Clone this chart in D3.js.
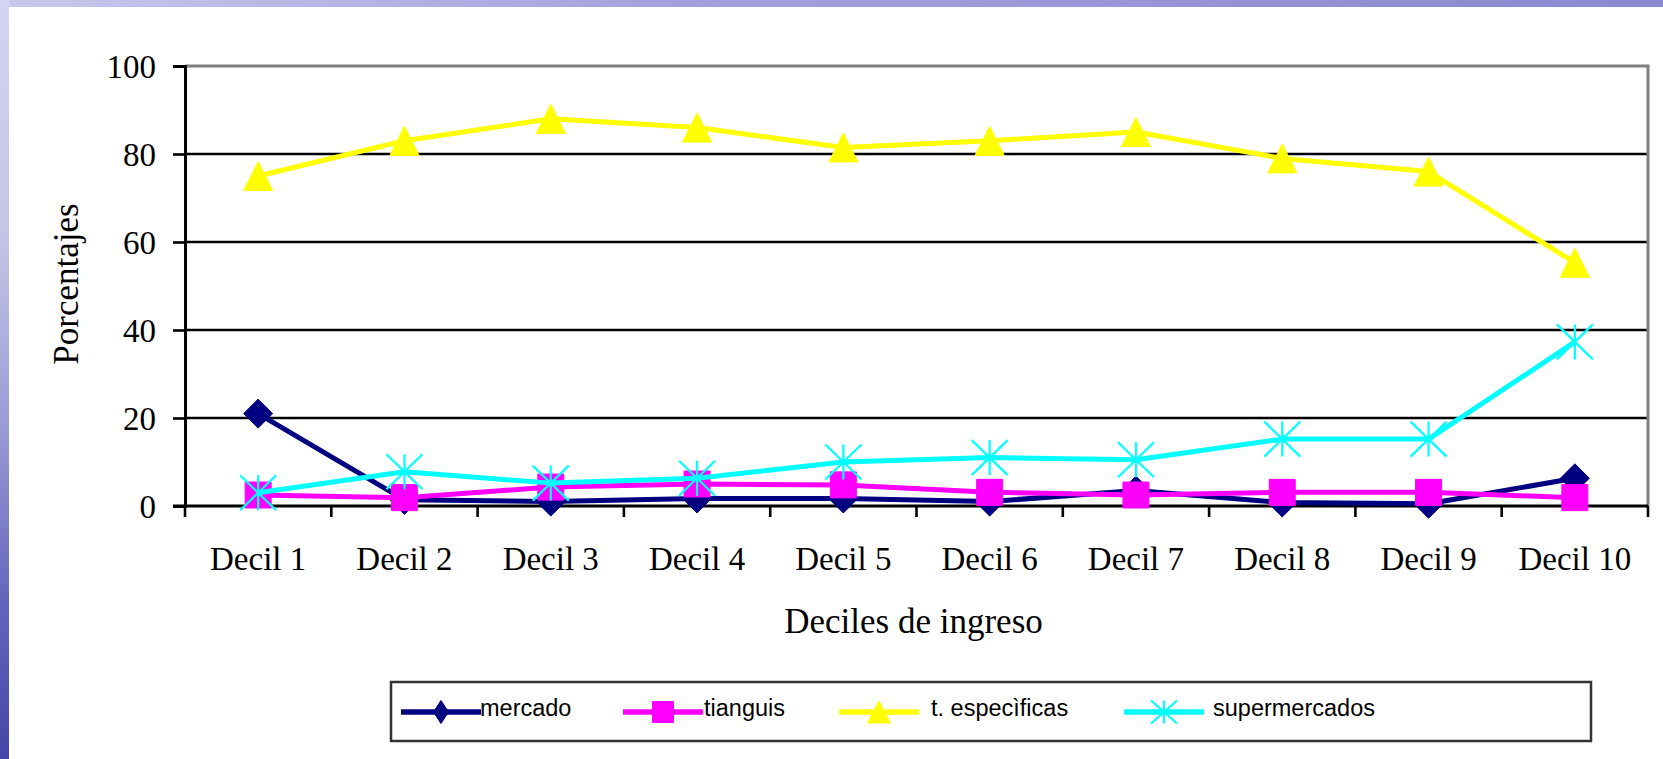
<!DOCTYPE html>
<html>
<head>
<meta charset="utf-8">
<script src="https://cdn.jsdelivr.net/npm/d3@7"></script>
<style>
  html, body { margin: 0; padding: 0; background: #ffffff; }
  svg { display: block; }
</style>
</head>
<body>
<svg id="chart" width="1663" height="759"></svg>
<script>
// Income deciles and the share (%) of households buying at each type of outlet
const categories = ["Decil 1", "Decil 2", "Decil 3", "Decil 4", "Decil 5",
                    "Decil 6", "Decil 7", "Decil 8", "Decil 9", "Decil 10"];
const mercado       = [21, 1.4, 1.0, 1.7, 1.7, 1.0, 3.5, 0.8, 0.5, 6.3];
const tianguis      = [2.5, 1.9, 4.3, 5.0, 4.8, 3.1, 2.5, 3.1, 3.1, 1.9];
const especificas   = [75, 83, 88, 86, 81.5, 83, 85, 79, 76, 55.3];
const supermercados = [3.0, 7.8, 5.2, 6.3, 10.0, 11.0, 10.5, 15.2, 15.2, 37.3];
const seriesNames   = ["mercado", "tianguis", "t. especìficas", "supermercados"];
const yTicks        = [0, 20, 40, 60, 80, 100];
const xTitle        = "Deciles de ingreso";
const yTitle        = "Porcentajes";

const seriesValues = [mercado, tianguis, especificas, supermercados];
const seriesColors = ["#000080", "#ff00ff", "#ffff00", "#00ffff"];
const seriesShapes = ["diamond", "square", "triangle", "star"];

const svg = d3.select("#chart");
const W = 1663, H = 759;

// ---- slide background: textured blue strip on the left, purple band on top
const defs = svg.append("defs");
const gLeft = defs.append("linearGradient").attr("id", "leftBand")
  .attr("x1", 0).attr("y1", 0).attr("x2", 0).attr("y2", 1);
gLeft.append("stop").attr("offset", "0%").attr("stop-color", "#d4d4f0");
gLeft.append("stop").attr("offset", "30%").attr("stop-color", "#c4c6e8");
gLeft.append("stop").attr("offset", "55%").attr("stop-color", "#9c9ed6");
gLeft.append("stop").attr("offset", "80%").attr("stop-color", "#6264bc");
gLeft.append("stop").attr("offset", "100%").attr("stop-color", "#4446a8");
const gTop = defs.append("linearGradient").attr("id", "topBand")
  .attr("x1", 0).attr("y1", 0).attr("x2", 1).attr("y2", 0);
gTop.append("stop").attr("offset", "0%").attr("stop-color", "#c8c8ec");
gTop.append("stop").attr("offset", "40%").attr("stop-color", "#a4a2dc");
gTop.append("stop").attr("offset", "100%").attr("stop-color", "#8a88d0");

svg.append("rect").attr("x", 0).attr("y", 0).attr("width", W).attr("height", H).attr("fill", "#ffffff");
svg.append("rect").attr("x", 0).attr("y", 0).attr("width", W).attr("height", 7).attr("fill", "url(#topBand)");
svg.append("rect").attr("x", 0).attr("y", 0).attr("width", 9).attr("height", H).attr("fill", "url(#leftBand)");

// ---- plot area
const plot = { left: 185, right: 1648, top: 66, bottom: 506 };

const x = d3.scaleBand().domain(categories).range([plot.left, plot.right]);
const y = d3.scaleLinear().domain([0, 100]).range([plot.bottom, plot.top]);

// horizontal gridlines
svg.append("g").selectAll("line")
  .data(yTicks.filter(v => v > 0 && v < 100))
  .join("line")
  .attr("x1", plot.left).attr("x2", plot.right)
  .attr("y1", d => y(d)).attr("y2", d => y(d))
  .attr("stroke", "#000").attr("stroke-width", 2.6);

// gray frame on the top and right of the plot area
svg.append("path")
  .attr("d", `M${plot.left},${y(100)}H${plot.right}V${plot.bottom}`)
  .attr("fill", "none").attr("stroke", "#808080").attr("stroke-width", 3);

// y axis
const yAxis = d3.axisLeft(y).tickValues(yTicks).tickSize(12).tickPadding(17).tickFormat(d3.format("d"));
const gy = svg.append("g").attr("transform", `translate(${plot.left},0)`).call(yAxis);
gy.select(".domain").attr("stroke", "#000").attr("stroke-width", 3);
gy.selectAll(".tick line").attr("stroke", "#000").attr("stroke-width", 2.6);
gy.selectAll(".tick text")
  .attr("font-family", "'Liberation Serif', 'Times New Roman', serif")
  .attr("font-size", 33).attr("fill", "#000").attr("dy", "0.36em");

// x axis: baseline, ticks between categories, labels centred on each band
const gx = svg.append("g");
gx.append("line")
  .attr("x1", plot.left - 12).attr("x2", plot.right)
  .attr("y1", y(0)).attr("y2", y(0))
  .attr("stroke", "#000").attr("stroke-width", 3);
const boundaries = categories.map(c => x(c)).concat([x.range()[1]]);
gx.selectAll("line.tick")
  .data(boundaries)
  .join("line").attr("class", "tick")
  .attr("x1", d => d).attr("x2", d => d)
  .attr("y1", y(0)).attr("y2", y(0) + 11)
  .attr("stroke", "#000").attr("stroke-width", 2.6);
gx.selectAll("text")
  .data(categories)
  .join("text")
  .attr("x", d => x(d) + x.bandwidth() / 2)
  .attr("y", 570)
  .attr("text-anchor", "middle")
  .attr("font-family", "'Liberation Serif', 'Times New Roman', serif")
  .attr("font-size", 33).attr("fill", "#000")
  .text(d => d);

// axis titles
svg.append("text")
  .attr("x", (plot.left + plot.right) / 2 - 3).attr("y", 633)
  .attr("text-anchor", "middle")
  .attr("font-family", "'Liberation Serif', 'Times New Roman', serif")
  .attr("font-size", 35).attr("fill", "#000")
  .text(xTitle);
svg.append("text")
  .attr("transform", `translate(78,${(plot.top + plot.bottom) / 2 - 2}) rotate(-90)`)
  .attr("text-anchor", "middle")
  .attr("font-family", "'Liberation Serif', 'Times New Roman', serif")
  .attr("font-size", 35).attr("fill", "#000")
  .text(yTitle);

// ---- marker shapes (w, h = full width / height)
function markerPath(shape, w, h) {
  const a = w / 2, b = h / 2;
  switch (shape) {
    case "diamond":  return `M0,${-b}L${a},0L0,${b}L${-a},0Z`;
    case "square":   return `M${-a},${-b}H${a}V${b}H${-a}Z`;
    case "triangle": return `M0,${-b}L${a},${b}H${-a}Z`;
    case "star":     return `M${-a},${-b}L${a},${b}M${a},${-b}L${-a},${b}M0,${-b}V${b}`;
  }
}
const plotMarkerSize = { diamond: [29, 29], square: [26, 26], triangle: [29, 29], star: [36, 35] };

function drawMarker(g, shape, color, w, h) {
  const p = g.append("path").attr("d", markerPath(shape, w, h));
  if (shape === "star") {
    p.attr("fill", "none").attr("stroke", color).attr("stroke-width", 2.2);
  } else {
    p.attr("fill", color).attr("stroke", color).attr("stroke-width", 1).attr("stroke-linejoin", "round");
  }
}

// ---- series: line then markers, drawn in series order
const line = d3.line()
  .x((d, i) => x(categories[i]) + x.bandwidth() / 2)
  .y(d => y(d));

seriesValues.forEach((vals, s) => {
  const g = svg.append("g").attr("class", "series");
  g.append("path")
    .attr("d", line(vals))
    .attr("fill", "none")
    .attr("stroke", seriesColors[s])
    .attr("stroke-width", 5)
    .attr("stroke-linejoin", "round");
  vals.forEach((v, i) => {
    const m = g.append("g")
      .attr("transform", `translate(${x(categories[i]) + x.bandwidth() / 2},${y(v)})`);
    const [w, h] = plotMarkerSize[seriesShapes[s]];
    drawMarker(m, seriesShapes[s], seriesColors[s], w, h);
  });
});

// ---- legend
const legend = svg.append("g");
legend.append("rect")
  .attr("x", 391).attr("y", 682).attr("width", 1200).attr("height", 59)
  .attr("fill", "#ffffff").attr("stroke", "#333").attr("stroke-width", 2.5);

const legendLineX = [401, 623, 839, 1124];
const legendTextX = [480, 704, 931, 1213];
const legendMarkerSize = { diamond: [15, 23], square: [21, 21], triangle: [23, 22], star: [26, 23] };
const legendY = 712;

seriesNames.forEach((name, s) => {
  const g = legend.append("g");
  g.append("line")
    .attr("x1", legendLineX[s]).attr("x2", legendLineX[s] + 80)
    .attr("y1", legendY).attr("y2", legendY)
    .attr("stroke", seriesColors[s]).attr("stroke-width", 5.5);
  const m = g.append("g").attr("transform", `translate(${legendLineX[s] + 40},${legendY})`);
  const [w, h] = legendMarkerSize[seriesShapes[s]];
  drawMarker(m, seriesShapes[s], seriesColors[s], w, h);
  g.append("text")
    .attr("x", legendTextX[s]).attr("y", 716)
    .attr("font-family", "'Liberation Sans', Arial, sans-serif")
    .attr("font-size", 23.5).attr("fill", "#000")
    .text(name);
});
</script>
</body>
</html>
